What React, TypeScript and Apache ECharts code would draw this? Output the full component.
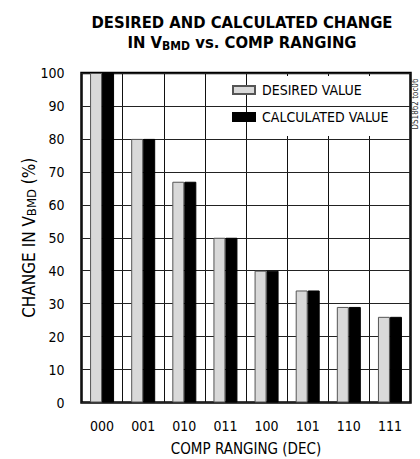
import React, { useEffect, useRef } from "react";
import * as echarts from "echarts";

const categories = ["000", "001", "010", "011", "100", "101", "110", "111"];
const desiredValue = [100, 80, 67, 50, 40, 34, 29, 26];
const calculatedValue = [100, 80, 67, 50, 40, 34, 29, 26];
const yTicks = { min: 0, max: 100, interval: 10 };

const FONT = "'Liberation Sans Narrow', 'DejaVu Sans Condensed', 'Arial Narrow', sans-serif";

export default function App() {
  const ref = useRef<HTMLDivElement>(null);
  useEffect(() => {
    if (!ref.current) return;
    const chart = echarts.init(ref.current, undefined, { renderer: "svg" });
    chart.setOption({
      animation: false,
      backgroundColor: "#fff",
      textStyle: { fontFamily: FONT, color: "#000" },
      title: {
        left: 242,
        top: 12,
        padding: 0,
        textAlign: "center",
        text: "DESIRED AND CALCULATED CHANGE\nIN V{sub|BMD} vs. COMP RANGING",
        textStyle: {
          fontFamily: FONT,
          fontWeight: "bold",
          fontSize: 16.5,
          lineHeight: 20,
          color: "#000",
          rich: {
            sub: { fontFamily: FONT, fontWeight: "bold", fontSize: 12, lineHeight: 20, verticalAlign: "bottom", padding: [6, 0, 0, 0], color: "#000" },
          },
        },
      },
      legend: {
        left: 232,
        top: 83,
        padding: 0,
        orient: "vertical",
        itemWidth: 22,
        itemHeight: 8,
        itemGap: 13,
        textStyle: { fontFamily: FONT, fontSize: 14, color: "#000", padding: [0, 0, 0, 2] },
        z: 5,
        data: [
          { name: "DESIRED VALUE", icon: "rect" },
          { name: "CALCULATED VALUE", icon: "rect" },
        ],
      },
      grid: {
        left: 81.5,
        right: 9.5,
        top: 73,
        bottom: 56.5,
        outerBoundsMode: "none",
        containLabel: false,
        show: true,
        borderColor: "#000",
        borderWidth: 2.5,
        backgroundColor: "transparent",
      },
      graphic: [
        {
          type: "rect",
          z: 1,
          shape: { x: 256, y: 76, width: 152.5, height: 60 },
          style: { fill: "#fff" },
        },
        {
          type: "text",
          x: 415.5,
          y: 104,
          rotation: Math.PI / 2,
          z: 5,
          style: {
            text: "DS1862 toc06",
            fontFamily: FONT,
            fontSize: 8,
            fill: "#333",
            textAlign: "center",
            textVerticalAlign: "middle",
          },
        },
      ],
      xAxis: {
        type: "category",
        data: categories,
        z: 0,
        boundaryGap: true,
        name: "COMP RANGING (DEC)",
        nameLocation: "middle",
        nameGap: 38.5,
        nameMoveOverlap: false,
        nameTextStyle: { fontFamily: FONT, fontSize: 15, color: "#000" },
        axisLine: { show: false },
        axisTick: { show: false },
        axisLabel: { fontFamily: FONT, fontSize: 14, color: "#000", margin: 16, interval: 0 },
        splitLine: { show: true, interval: 0, lineStyle: { color: "#111", width: 1 } },
      },
      yAxis: {
        type: "value",
        z: 2,
        min: yTicks.min,
        max: yTicks.max,
        interval: yTicks.interval,
        name: "CHANGE IN V{sub|BMD} (%)",
        nameLocation: "middle",
        nameRotate: 90,
        nameGap: 44,
        nameMoveOverlap: false,
        nameTextStyle: {
          fontFamily: FONT,
          fontSize: 17,
          color: "#000",
          rich: { sub: { fontFamily: FONT, fontSize: 13, verticalAlign: "bottom", padding: [5, 0, 0, 0], color: "#000" } },
        },
        axisLine: { show: false },
        axisTick: { show: false },
        axisLabel: { fontFamily: FONT, fontSize: 14, color: "#000", margin: 17 },
        splitLine: { show: true, lineStyle: { color: "#222", width: 1 } },
      },
      series: [
        {
          name: "DESIRED VALUE",
          type: "bar",
          z: 3,
          data: desiredValue,
          barWidth: 12,
          barGap: "0%",
          itemStyle: { color: "#d9d9d9", borderColor: "#555", borderWidth: 1 },
        },
        {
          name: "CALCULATED VALUE",
          type: "bar",
          z: 3,
          data: calculatedValue,
          barWidth: 12,
          barGap: "0%",
          itemStyle: { color: "#000", borderColor: "#000", borderWidth: 1 },
        },
      ],
    });
    return () => chart.dispose();
  }, []);
  return <div ref={ref} style={{ width: 420, height: 459, position: "absolute", left: 0, top: 0 }} />;
}
